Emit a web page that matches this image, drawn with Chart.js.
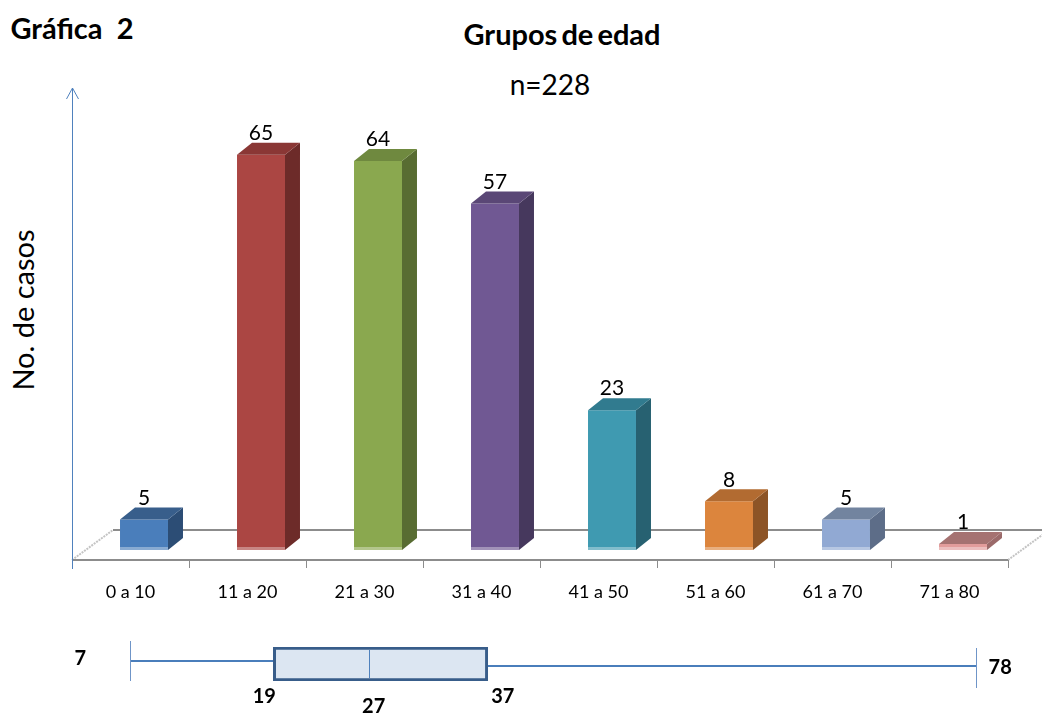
<!DOCTYPE html>
<html lang="es">
<head>
<meta charset="utf-8">
<title>Gráfica 2 - Grupos de edad</title>
<script src="https://cdn.jsdelivr.net/npm/chart.js@4/dist/chart.umd.min.js"></script>
<style>
  html, body { margin: 0; padding: 0; background: #fff; }
  #wrap { position: relative; width: 1042px; height: 717px; font-family: Lato, "Open Sans", sans-serif; color: #000; }
  .txt { position: absolute; white-space: nowrap; line-height: 1; transform: translate(-50%, -50%); }
  #grafica { left: 72px; top: 27px; font-weight: bold; font-size: 29px; }
  #titulo { left: 562px; top: 33px; font-weight: bold; font-size: 29px; word-spacing: -3px; }
  #subtitulo { left: 550px; top: 84px; font-size: 28px; }
  #ytitulo { left: 22px; top: 310px; font-size: 29px; transform: translate(-50%, -50%) rotate(-90deg); }
  canvas { position: absolute; left: 0; }
  #barras { top: 0; }
  #caja { top: 620px; }
</style>
</head>
<body>
<div id="wrap">
  <div class="txt" id="grafica">Gráfica&nbsp;&nbsp;2</div>
  <div class="txt" id="titulo">Grupos de edad</div>
  <div class="txt" id="subtitulo">n=228</div>
  <div class="txt" id="ytitulo">No. de casos</div>
  <canvas id="barras" width="1042" height="620"></canvas>
  <canvas id="caja" width="1042" height="97"></canvas>
</div>
<script>
// ---- datos ----
const categorias = ['0 a 10', '11 a 20', '21 a 30', '31 a 40', '41 a 50', '51 a 60', '61 a 70', '71 a 80'];
const casos = [5, 65, 64, 57, 23, 8, 5, 1];

// resumen de la edad para el diagrama de caja: mínimo, Q1, mediana, Q3, máximo
const cajaValores = [7, 19, 27, 37, 78];

// colores de cada barra (cara frontal, lateral y superior)
const colorFrente = ['#4a7ebb', '#ab4643', '#8aa84f', '#705893', '#3f9ab1', '#dc853d', '#91a9d3', '#e29c9b'];
const colorLado = ['#2c4d75', '#6d2b29', '#586c32', '#46385d', '#276171', '#8d5426', '#5d6d88', '#9b6a6a'];
const colorTapa = ['#385e8b', '#8a3735', '#6f893f', '#5a4776', '#317b8f', '#b26b31', '#72849f', '#a57271'];

// efecto 3D
const DX = 15, DY = 12;     // profundidad de las barras
const SHIFT = 13.5;         // desplazamiento de la perspectiva
const FONDO = 41, FONDO_Y = 30;

function linea(ctx, x1, y1, x2, y2) {
  ctx.beginPath();
  ctx.moveTo(x1, y1);
  ctx.lineTo(x2, y2);
  ctx.stroke();
}

function poligono(ctx, pts, color) {
  ctx.beginPath();
  ctx.moveTo(pts[0][0], pts[0][1]);
  for (let i = 1; i < pts.length; i++) ctx.lineTo(pts[i][0], pts[i][1]);
  ctx.closePath();
  ctx.fillStyle = color;
  ctx.fill();
}

/**
 * Piso, caras laterales y etiquetas de las barras
 */
const barras3D = {
  id: 'barras3D',
  beforeDatasetsDraw(chart) {
    const { ctx, chartArea: a } = chart;
    const x0 = a.left - SHIFT, x1 = a.right - SHIFT, yF = a.bottom, yB = a.bottom - FONDO_Y;
    ctx.save();
    ctx.strokeStyle = '#8c8c8c';
    ctx.lineWidth = 2;
    linea(ctx, x0 + FONDO, yB, chart.width, yB);
    ctx.strokeStyle = '#c4c4c4';
    ctx.setLineDash([2, 1]);
    linea(ctx, x0, yF, x0 + FONDO, yB);
    linea(ctx, x1, yF, x1 + FONDO, yB);
    ctx.restore();
  },
  afterDatasetsDraw(chart) {
    const { ctx, chartArea: a } = chart;
    const meta = chart.getDatasetMeta(0);
    ctx.save();
    meta.data.forEach((bar, i) => {
      const { x, y, base, width } = bar.getProps(['x', 'y', 'base', 'width'], true);
      const l = x - width / 2, r = x + width / 2;
      poligono(ctx, [[r, y], [r + DX, y - DY], [r + DX, base - DY], [r, base]], colorLado[i]);
      poligono(ctx, [[l, y], [l + DX, y - DY], [r + DX, y - DY], [r, y]], colorTapa[i]);
      // reflejo claro en la base
      ctx.fillStyle = 'rgba(255,255,255,0.35)';
      ctx.fillRect(l, base - 3, width, 4);
      ctx.fillStyle = '#000';
      ctx.font = '21px Lato, sans-serif';
      ctx.textAlign = 'center';
      ctx.textBaseline = 'bottom';
      ctx.fillText(String(casos[i]), x, y - DY + 1);
    });

    const x0 = a.left - SHIFT, x1 = a.right - SHIFT, yF = a.bottom;
    ctx.strokeStyle = '#8c8c8c';
    ctx.lineWidth = 2;
    linea(ctx, x0, yF, x1, yF);
    ctx.lineWidth = 1;
    const n = categorias.length;
    for (let i = 1; i <= n; i++) {
      const xt = Math.round(x0 + i * (x1 - x0) / n) + 0.5;
      linea(ctx, xt, yF, xt, yF + 8);
    }

    // eje Y con flecha
    ctx.strokeStyle = '#4f81bd';
    const xa = Math.round(x0) + 0.5;
    linea(ctx, xa, yF + 9, xa, a.top);
    linea(ctx, xa - 6, a.top + 11, xa, a.top);
    linea(ctx, xa + 6, a.top + 11, xa, a.top);
    ctx.restore();
  }
};

/**
 * Bigotes, mediana y etiquetas del diagrama de caja
 */
const bigotes = {
  id: 'bigotes',
  beforeDatasetsDraw(chart) {
    const { ctx } = chart;
    const xs = chart.scales.x;
    const yc = chart.getDatasetMeta(0).data[0].y;
    const [mn, q1, , q3, mx] = cajaValores.map(v => xs.getPixelForValue(v));
    ctx.save();
    ctx.strokeStyle = '#4a7ebb';
    ctx.lineWidth = 2;
    linea(ctx, mn, yc - 3, q1, yc - 3);
    linea(ctx, q3, yc + 2, mx, yc + 2);
    ctx.lineWidth = 1;
    ctx.strokeStyle = '#6f95c8';
    linea(ctx, Math.round(mn) + 0.5, yc - 23, Math.round(mn) + 0.5, yc + 17);
    linea(ctx, Math.round(mx) + 0.5, yc - 16, Math.round(mx) + 0.5, yc + 24);
    ctx.restore();
  },
  afterDatasetsDraw(chart) {
    const { ctx } = chart;
    const xs = chart.scales.x;
    const bar = chart.getDatasetMeta(0).data[0];
    const yc = bar.y, h = bar.height;
    const [mn, q1, md, q3, mx] = cajaValores.map(v => xs.getPixelForValue(v));
    ctx.save();
    ctx.strokeStyle = '#4f81bd';
    ctx.lineWidth = 1;
    linea(ctx, Math.round(md) + 0.5, yc - h / 2 + 3, Math.round(md) + 0.5, yc + h / 2 - 3);

    ctx.fillStyle = '#000';
    ctx.font = 'bold 20px Lato, sans-serif';
    ctx.textAlign = 'center';
    ctx.textBaseline = 'middle';
    ctx.fillText(String(cajaValores[0]), mn - 50, yc - 5);
    ctx.fillText(String(cajaValores[4]), mx + 24, yc + 4);
    ctx.fillText(String(cajaValores[1]), q1 - 9, 77);
    ctx.fillText(String(cajaValores[2]), md + 5, 87);
    ctx.fillText(String(cajaValores[3]), q3 + 15, 77);
    ctx.restore();
  }
};

new Chart(document.getElementById('barras'), {
  type: 'bar',
  data: {
    labels: categorias,
    datasets: [
      {
        label: 'No. de casos',
        data: casos,
        backgroundColor: colorFrente,
        borderWidth: 0,
        barPercentage: 0.41,
        categoryPercentage: 1
      }
    ]
  },
  options: {
    responsive: false,
    animation: false,
    layout: { padding: { left: 85.5, right: 20.5, top: 88, bottom: 20 } },
    plugins: {
      legend: { display: false },
      tooltip: { enabled: false }
    },
    scales: {
      x: {
        grid: { display: false, drawTicks: false },
        border: { display: false },
        ticks: {
          color: '#000',
          font: { family: 'Lato', size: 18 },
          padding: 21,
          labelOffset: -SHIFT,
          maxRotation: 0,
          autoSkip: false
        },
        afterFit(scale) { scale.height = 40; }
      },
      y: { display: false, min: -1.645, max: 76 }
    }
  },
  plugins: [barras3D]
});

new Chart(document.getElementById('caja'), {
  type: 'bar',
  data: {
    labels: ['Edad'],
    datasets: [
      {
        data: [[cajaValores[1], cajaValores[3]]],
        backgroundColor: '#dce6f2',
        borderColor: '#385d8a',
        borderWidth: 3,
        borderSkipped: false,
        barThickness: 34
      }
    ]
  },
  options: {
    indexAxis: 'y',
    responsive: false,
    animation: false,
    layout: { padding: { left: 47, right: 42, top: 27, bottom: 36 } },
    plugins: {
      legend: { display: false },
      tooltip: { enabled: false }
    },
    scales: {
      x: { type: 'linear', display: false, min: 0, max: 80 },
      y: { display: false }
    }
  },
  plugins: [bigotes]
});
</script>
</body>
</html>
